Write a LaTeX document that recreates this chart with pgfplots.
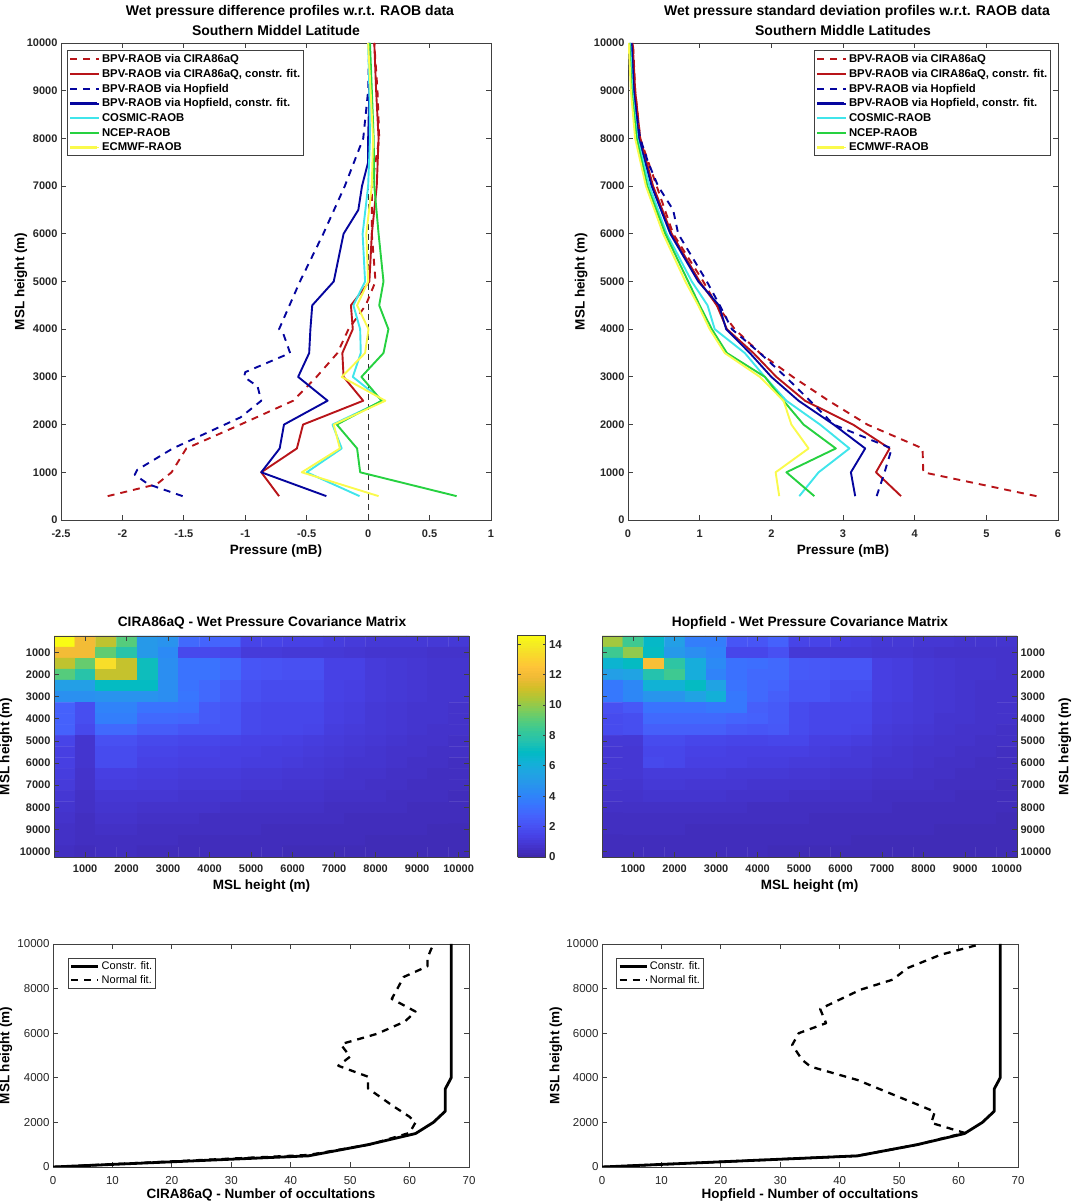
\documentclass[border=0pt]{standalone}
\usepackage{fontspec}
\setmainfont{Liberation Sans}
\usepackage{pgfplots}
\pgfplotsset{compat=1.18}

% one pixel of the reference = 1pt
\definecolor{axgray}{gray}{0.25}
\definecolor{cred}{rgb}{0.72,0.08,0.10}
\definecolor{cblue}{rgb}{0.02,0.02,0.62}
\definecolor{ccyan}{rgb}{0.25,0.90,0.92}
\definecolor{cgreen}{rgb}{0.15,0.82,0.25}
\definecolor{cyell}{rgb}{0.98,0.98,0.30}

\pgfplotsset{
  colormap={parula}{
    rgb=(.2422,.1504,.6603) rgb=(.2647,.1978,.7952) rgb=(.2783,.2559,.8991)
    rgb=(.2810,.3228,.9579) rgb=(.2699,.3892,.9906) rgb=(.2206,.4603,.9973)
    rgb=(.1786,.5289,.9682) rgb=(.1540,.5902,.9218) rgb=(.1248,.6459,.8883)
    rgb=(.0689,.6948,.8394) rgb=(.0067,.7312,.7660) rgb=(.1408,.7584,.6842)
    rgb=(.2161,.7843,.5923) rgb=(.3406,.8008,.4789) rgb=(.5044,.7993,.3480)
    rgb=(.6720,.7793,.2227) rgb=(.8203,.7498,.1535) rgb=(.9393,.7288,.2100)
    rgb=(.9970,.7659,.2199) rgb=(.9786,.8386,.1766) rgb=(.9597,.9135,.1423)
    rgb=(.9769,.9839,.0805)
  },
  base/.style={
    scale only axis, anchor=south west, clip=true,
    axis line style={axgray,line width=0.9pt},
    tick style={axgray,line width=0.8pt},
    major tick length=5pt, tick align=inside,
    scaled ticks=false,
    /pgf/number format/assume math mode=true,
    /pgf/number format/1000 sep={},
    xlabel style={font=\fontsize{13.5}{15}\selectfont\bfseries},
    ylabel style={font=\fontsize{13.5}{15}\selectfont\bfseries},
  },
  boldticks/.style={tick label style={font=\fontsize{11}{12}\selectfont\bfseries,black!85}},
  plainticks/.style={tick label style={font=\fontsize{11.5}{12}\selectfont,black!85}},
  ylab/.style={ylabel style={at={(axis description cs:#1,0.5)},anchor=center}},
  xlab/.style={xlabel style={at={(axis description cs:0.5,#1)},anchor=center}},
  prof/.style={
    base, boldticks, width=430pt, height=477pt,
    xticklabel style={yshift=-6pt}, xlab=-0.065,
    ymin=0, ymax=10000, ytick={0,1000,...,10000},
    legend cell align=left,
    legend image code/.code={\draw[##1,line width=2.3pt] (0pt,0pt) -- (27pt,0pt); \path (0pt,0pt) -- (29pt,0pt);},
    legend style={draw=axgray,line width=0.9pt,inner sep=1.5pt,row sep=1.2pt,
      font=\fontsize{11.3}{14}\selectfont\bfseries},
    every axis plot/.append style={line width=1.9pt,line join=round},
  },
  heat/.style={
    base, boldticks, width=415pt, height=221pt,
    xticklabel style={yshift=-4pt}, xlab=-0.131,
    xmin=250, xmax=10250, ymin=250, ymax=10250, y dir=reverse,
    xtick={1000,2000,...,10000}, ytick={1000,2000,...,10000},
    colormap name=parula, point meta min=0, point meta max=14.6,
  },
  count/.style={
    base, plainticks, width=416pt, height=223pt,
    xticklabel style={yshift=-6pt}, xlab=-0.125,
    xmin=0, xmax=70, ymin=0, ymax=10000,
    xtick={0,10,...,70}, ytick={0,2000,...,10000},
    legend cell align=left,
    legend image code/.code={\draw[##1] (0pt,0pt) -- (27pt,0pt);},
    legend style={draw=axgray,line width=0.9pt,inner sep=1.5pt,
      font=\fontsize{11}{13.5}\selectfont},
    every axis plot/.append style={black,line join=round},
  },
  dsh/.style={dash pattern=on 7pt off 6pt},
  mtx/.style={matrix plot, faceted color=mapped color, line width=0.4pt, mesh/cols=20, point meta=\thisrow{z}},
}

\begin{document}
\begin{tikzpicture}[x=1pt,y=1pt]
\path[use as bounding box] (0,0) rectangle (1074,1204);

% wet pressure difference
\begin{axis}[prof, at={(61pt,684pt)}, xmin=-2.5, xmax=1,
  xtick={-2.5,-2,...,1}, xticklabels={-2.5,-2,-1.5,-1,-0.5,0,0.5,1},
  xlabel={Pressure (mB)}, ylabel={MSL height (m)}, ylab=-0.093,
  legend style={at={(0.014,0.985)},anchor=north west}]
\addplot[black!80,line width=0.9pt,dash pattern=on 6pt off 4pt,forget plot] coordinates {(0,0)(0,10000)};
\addplot[cred,dsh] coordinates {(-2.12,500)(-1.72,750)(-1.6,1000)(-1.48,1500)(-1.04,2000)(-0.61,2500)(-0.42,3000)(-0.25,3500)(-0.16,4000)(-0.02,4500)(0.06,5000)(0.03,6000)(0.03,7000)(0.09,8000)(0.076,9000)(0.05,10000)};
\addlegendentry{BPV-RAOB via CIRA86aQ}
\addplot[cred] coordinates {(-0.725,500)(-0.87,1000)(-0.58,1500)(-0.53,2000)(-0.04,2500)(-0.2,3000)(-0.21,3500)(-0.125,4000)(-0.14,4500)(0.01,5000)(0.03,6000)(0.07,7000)(0.085,8000)(0.065,9000)(0.05,10000)};
\addlegendentry{BPV-RAOB via CIRA86aQ, constr. fit.}
\addplot[cblue,dsh] coordinates {(-1.51,500)(-1.79,750)(-1.9,950)(-1.88,1050)(-1.59,1500)(-1.04,2150)(-0.87,2500)(-0.9,2800)(-1.01,3000)(-1.0,3100)(-0.635,3500)(-0.69,3900)(-0.725,4000)(-0.555,5000)(-0.365,6000)(-0.19,7000)(-0.04,8000)(0,9000)(0.01,10000)};
\addlegendentry{BPV-RAOB via Hopfield}
\addplot[cblue] coordinates {(-0.34,500)(-0.87,1000)(-0.72,1500)(-0.685,2000)(-0.33,2500)(-0.57,3000)(-0.48,3500)(-0.47,4000)(-0.455,4500)(-0.28,5000)(-0.2,6000)(-0.08,6500)(-0.05,7000)(0,7500)(0,8000)(0.01,9000)(0.01,10000)};
\addlegendentry{BPV-RAOB via Hopfield, constr. fit.}
\addplot[ccyan] coordinates {(-0.07,500)(-0.5,1000)(-0.215,1500)(-0.29,2000)(0.12,2500)(-0.125,3000)(-0.06,3500)(-0.065,4000)(-0.12,4500)(-0.025,5000)(-0.045,6000)(0,7000)(0.015,8000)(0.01,9000)(0,10000)};
\addlegendentry{COSMIC-RAOB}
\addplot[cgreen] coordinates {(0.72,500)(-0.065,1000)(-0.09,1500)(-0.255,2000)(0.11,2500)(-0.055,3000)(0.125,3500)(0.165,4000)(0.09,4500)(0.125,5000)(0.085,6000)(0.05,7000)(0.045,8000)(0.03,9000)(0.015,10000)};
\addlegendentry{NCEP-RAOB}
\addplot[cyell] coordinates {(0.085,500)(-0.54,1000)(-0.23,1500)(-0.28,2000)(0.14,2500)(-0.215,3000)(-0.025,3500)(0.003,4000)(-0.09,4500)(0,5000)(-0.015,6000)(0.03,7000)(0.04,8000)(0.02,9000)(0,10000)};
\addlegendentry{ECMWF-RAOB}
\end{axis}

% wet pressure standard deviation
\begin{axis}[prof, at={(628pt,684pt)}, xmin=0, xmax=6, xtick={0,1,...,6},
  xlabel={Pressure (mB)}, ylabel={MSL height (m)}, ylab=-0.109,
  legend style={at={(0.4326,0.985)},anchor=north west}]
\addplot[cred,dsh] coordinates {(5.7,500)(4.12,1000)(4.11,1500)(3.34,2000)(2.8,2500)(2.3,3000)(1.84,3500)(1.49,4000)(1.24,4500)(1.05,5000)(0.63,6000)(0.4,7000)(0.17,8000)(0.1,9000)(0.07,10000)};
\addlegendentry{BPV-RAOB via CIRA86aQ}
\addplot[cred] coordinates {(3.81,500)(3.46,1000)(3.65,1500)(3.14,2000)(2.47,2500)(2.07,3000)(1.75,3500)(1.38,4000)(1.24,4500)(1.0,5000)(0.61,6000)(0.35,7000)(0.17,8000)(0.1,9000)(0.065,10000)};
\addlegendentry{BPV-RAOB via CIRA86aQ, constr. fit.}
\addplot[cblue,dsh] coordinates {(3.47,500)(3.58,1000)(3.68,1500)(2.87,2000)(2.54,2500)(2.2,3000)(1.84,3500)(1.45,4000)(1.28,4500)(1.1,5000)(0.7,6000)(0.63,6500)(0.42,7000)(0.28,7500)(0.17,8000)(0.07,9000)(0.03,10000)};
\addlegendentry{BPV-RAOB via Hopfield}
\addplot[cblue] coordinates {(3.17,500)(3.11,1000)(3.31,1500)(2.87,2000)(2.38,2500)(2.0,3000)(1.7,3500)(1.37,4000)(1.27,4500)(0.98,5000)(0.59,6000)(0.33,7000)(0.15,8000)(0.08,9000)(0.05,10000)};
\addlegendentry{BPV-RAOB via Hopfield, constr. fit.}
\addplot[ccyan] coordinates {(2.39,500)(2.66,1000)(3.09,1500)(2.68,2000)(2.21,2500)(1.91,3000)(1.63,3500)(1.21,4000)(1.11,4500)(0.89,5000)(0.54,6000)(0.3,7000)(0.13,8000)(0.06,9000)(0.03,10000)};
\addlegendentry{COSMIC-RAOB}
\addplot[cgreen] coordinates {(2.6,500)(2.21,1000)(2.9,1500)(2.45,2000)(2.17,2500)(1.91,3000)(1.38,3500)(1.17,4000)(1.0,4500)(0.84,5000)(0.52,6000)(0.27,7000)(0.12,8000)(0.05,9000)(0.02,10000)};
\addlegendentry{NCEP-RAOB}
\addplot[cyell] coordinates {(2.11,500)(2.06,1000)(2.52,1500)(2.28,2000)(2.17,2500)(1.84,3000)(1.35,3500)(1.14,4000)(0.98,4500)(0.8,5000)(0.49,6000)(0.25,7000)(0.1,8000)(0.04,9000)(0.01,10000)};
\addlegendentry{ECMWF-RAOB}
\end{axis}

% covariance matrices, 20 x 20, 500 m steps
\begin{axis}[heat, at={(54pt,347pt)},
  xlabel={MSL height (m)}, ylabel={MSL height (m)}, ylab=-0.1157,
  colorbar sampled,
  colorbar style={at={(509pt,347pt)}, anchor=south west, width=28pt, height=222pt,
    samples=90, ytick={0,2,...,14}, axis line style={axgray,line width=0.9pt},
    major tick length=3pt,
    yticklabel style={font=\fontsize{11.5}{12}\selectfont\bfseries,black!85},
    /pgf/number format/assume math mode=true}]
\addplot[mtx] table[row sep=crcr, x expr={500*(mod(\coordindex,20)+1)}, y expr={500*(floor((\coordindex+0.5)/20)+1)}] {
z\\
14.6\\12\\10.8\\9\\5\\4.7\\3\\2.8\\2.8\\1.5\\1.5\\1.4\\1.4\\1.2\\1.1\\1\\1\\1\\1\\1\\
12\\12\\9.2\\7.8\\5\\4.3\\1.7\\1.7\\1.6\\1.1\\1.1\\1\\1\\1\\.9\\.8\\.8\\.8\\.7\\.7\\
10.8\\9.3\\13.5\\10.9\\7.2\\4.5\\3.4\\3.4\\3\\2.2\\2.1\\2\\2\\1.4\\1.4\\1.1\\1\\.9\\.8\\.8\\
9\\7.8\\10.9\\10.9\\7.2\\4.5\\3.4\\3.4\\3\\2.2\\2.1\\2\\2\\1.4\\1.4\\1.1\\1\\.9\\.8\\.8\\
5.3\\5.3\\7\\7\\7\\4.5\\3.4\\3\\2.5\\2\\1.8\\1.8\\1.8\\1.4\\1.3\\1.1\\1\\.9\\.8\\.8\\
4.6\\4.6\\4.7\\4.7\\4.7\\4.5\\3.5\\3\\2.5\\2\\1.8\\1.8\\1.8\\1.4\\1.3\\1.1\\1\\.9\\.8\\.8\\
2.7\\1.9\\4\\4\\3.4\\3.4\\3.3\\2.4\\2.2\\1.7\\1.6\\1.6\\1.6\\1.3\\1.2\\1\\.9\\.8\\.8\\.7\\
2.7\\1.9\\3.8\\3.8\\3\\3\\2.9\\2.4\\2.2\\1.7\\1.6\\1.6\\1.6\\1.3\\1.2\\1\\.9\\.8\\.8\\.7\\
2.7\\1.7\\3\\3\\2.5\\2.5\\2.2\\2.2\\2.2\\1.7\\1.6\\1.6\\1.5\\1.2\\1.1\\1\\.9\\.8\\.7\\.7\\
1.5\\.8\\2\\2\\1.7\\1.7\\1.6\\1.6\\1.5\\1.4\\1.4\\1.3\\1.2\\1.1\\1\\.9\\.8\\.7\\.7\\.6\\
1.3\\.8\\1.8\\1.8\\1.5\\1.5\\1.4\\1.4\\1.3\\1.3\\1.2\\1.2\\1.1\\1\\.9\\.8\\.7\\.7\\.6\\.6\\
1.3\\.8\\1.8\\1.8\\1.4\\1.4\\1.3\\1.3\\1.3\\1.2\\1.2\\1.1\\1\\.9\\.8\\.8\\.7\\.6\\.6\\.5\\
1.2\\.7\\1.3\\1.3\\1.2\\1.2\\1.1\\1.1\\1.1\\1\\1\\.9\\.9\\.8\\.7\\.7\\.6\\.6\\.5\\.5\\
1.1\\.7\\1.2\\1.2\\1.1\\1.1\\1\\1\\1\\.9\\.9\\.8\\.8\\.7\\.7\\.6\\.6\\.5\\.5\\.5\\
.9\\.6\\.9\\.9\\.9\\.9\\.8\\.8\\.8\\.7\\.7\\.7\\.7\\.6\\.6\\.6\\.5\\.5\\.5\\.4\\
.8\\.6\\.8\\.8\\.7\\.7\\.7\\.7\\.6\\.6\\.6\\.6\\.6\\.5\\.5\\.5\\.5\\.4\\.4\\.4\\
.7\\.5\\.7\\.7\\.6\\.6\\.6\\.5\\.5\\.5\\.5\\.5\\.5\\.5\\.4\\.4\\.4\\.4\\.4\\.4\\
.6\\.5\\.6\\.6\\.5\\.5\\.5\\.5\\.5\\.5\\.4\\.4\\.4\\.4\\.4\\.4\\.4\\.4\\.3\\.3\\
.6\\.5\\.5\\.5\\.5\\.5\\.4\\.4\\.4\\.4\\.4\\.4\\.4\\.4\\.4\\.3\\.3\\.3\\.3\\.3\\
.5\\.4\\.5\\.5\\.4\\.4\\.4\\.4\\.4\\.4\\.4\\.3\\.3\\.3\\.3\\.3\\.3\\.3\\.3\\.3\\
};
\end{axis}

\begin{axis}[heat, at={(602pt,347pt)}, yticklabel pos=right,
  xlabel={MSL height (m)}, ylabel={MSL height (m)}, ylab=1.1157]
\addplot[mtx] table[row sep=crcr, x expr={500*(mod(\coordindex,20)+1)}, y expr={500*(floor((\coordindex+0.5)/20)+1)}] {
z\\
10.3\\8.5\\6.8\\5.3\\3.8\\3.8\\2.2\\2.2\\2.7\\1.5\\1.5\\1.3\\1.2\\1\\1\\.9\\.9\\.8\\.8\\.8\\
8.5\\10\\7\\5\\4.5\\4\\1.6\\1.6\\2\\1\\1\\1\\1\\.9\\.9\\.8\\.7\\.7\\.7\\.7\\
6.5\\7\\12.2\\8\\6\\4.3\\3.3\\3.2\\3\\2.4\\2.3\\2.2\\2.2\\1.3\\1.2\\1\\.9\\.8\\.8\\.7\\
5.3\\5.5\\7.7\\8.5\\6\\4\\3.3\\3\\3\\2.4\\2.3\\2.2\\2.2\\1.3\\1.2\\1\\.9\\.8\\.8\\.7\\
3.6\\4.2\\6.3\\6.3\\7\\5.5\\3.4\\3\\2.8\\2.2\\2.2\\1.9\\1.9\\1.3\\1.2\\1\\.9\\.8\\.7\\.7\\
3.6\\4.2\\4.8\\4.8\\5.5\\6.2\\3.6\\3\\2.6\\2.2\\2.2\\1.9\\1.8\\1.3\\1.2\\1\\.9\\.8\\.7\\.7\\
2\\2.3\\3.4\\3.4\\3.4\\3.6\\3.6\\2.6\\2.4\\1.8\\1.6\\1.6\\1.6\\1.2\\1.1\\1\\.9\\.8\\.7\\.7\\
1.8\\1.9\\3\\3\\3\\3\\2.8\\2.7\\2.4\\1.8\\1.6\\1.6\\1.6\\1.2\\1.1\\1\\.8\\.8\\.7\\.7\\
1.8\\1.9\\2.6\\2.6\\2.6\\2.6\\2.3\\2.2\\2.3\\1.8\\1.6\\1.6\\1.5\\1.1\\1\\.9\\.8\\.7\\.7\\.6\\
1\\1\\1.8\\1.8\\1.6\\1.6\\1.5\\1.5\\1.6\\1.6\\1.3\\1.3\\1.2\\1\\.9\\.8\\.7\\.7\\.6\\.6\\
.9\\.9\\1.6\\1.6\\1.4\\1.4\\1.3\\1.3\\1.3\\1.3\\1.2\\1.1\\1\\.9\\.8\\.7\\.7\\.6\\.6\\.5\\
.9\\.9\\1.7\\1.6\\1.3\\1.3\\1.3\\1.2\\1.2\\1.1\\1.1\\1\\1\\.8\\.8\\.7\\.6\\.6\\.5\\.5\\
.9\\.9\\1.1\\1.1\\1.1\\1.1\\1\\1\\1\\.9\\.9\\.8\\.8\\.7\\.7\\.6\\.6\\.5\\.5\\.5\\
.8\\.8\\1\\1\\.9\\.9\\.9\\.8\\.8\\.8\\.8\\.7\\.7\\.6\\.6\\.6\\.5\\.5\\.5\\.4\\
.7\\.7\\.8\\.8\\.8\\.8\\.7\\.7\\.7\\.6\\.6\\.6\\.6\\.5\\.5\\.5\\.5\\.4\\.4\\.4\\
.6\\.6\\.6\\.6\\.6\\.6\\.6\\.5\\.5\\.5\\.5\\.5\\.5\\.5\\.4\\.4\\.4\\.4\\.4\\.4\\
.5\\.5\\.5\\.5\\.5\\.5\\.5\\.5\\.5\\.5\\.4\\.4\\.4\\.4\\.4\\.4\\.4\\.4\\.4\\.3\\
.5\\.5\\.5\\.5\\.4\\.4\\.4\\.4\\.4\\.4\\.4\\.4\\.4\\.4\\.4\\.4\\.3\\.3\\.3\\.3\\
.4\\.4\\.4\\.4\\.4\\.4\\.4\\.4\\.4\\.4\\.4\\.4\\.3\\.3\\.3\\.3\\.3\\.3\\.3\\.3\\
.4\\.4\\.4\\.4\\.4\\.4\\.4\\.4\\.3\\.3\\.3\\.3\\.3\\.3\\.3\\.3\\.3\\.3\\.3\\.3\\
};
\end{axis}

% number of occultations
\begin{axis}[count, at={(53pt,37pt)},
  xlabel={CIRA86aQ - Number of occultations}, ylabel={MSL height (m)}, ylab=-0.113,
  legend style={at={(0.036,0.937)},anchor=north west}]
\addplot[line width=2.8pt] coordinates {(0,0)(43,500)(53,1000)(61,1500)(64,2000)(66,2500)(66,3000)(66,3500)(67,4000)(67,10000)};
\addlegendentry{Constr. fit.}
\addplot[line width=2.3pt,dsh] coordinates {(0,0)(43,540)(53.5,1020)(60,1530)(61,2000)(60,2250)(57,2775)(53,3525)(53,4050)(48,4540)(50,4950)(48.5,5470)(49,5550)(54.5,5970)(59.2,6520)(61,6970)(57,7540)(58,8020)(59,8520)(63,9000)(63,9370)(64,10000)};
\addlegendentry{Normal fit.}
\end{axis}

\begin{axis}[count, at={(602pt,37pt)},
  xlabel={Hopfield - Number of occultations}, ylabel={MSL height (m)}, ylab=-0.1106,
  legend style={at={(0.034,0.937)},anchor=north west}]
\addplot[line width=2.8pt] coordinates {(0,0)(43,500)(53,1000)(61,1500)(64,2000)(66,2500)(66,3000)(66,3500)(67,4000)(67,10000)};
\addlegendentry{Constr. fit.}
\addplot[line width=2.3pt,dsh] coordinates {(0,0)(43,500)(53,1000)(61,1530)(55.4,1980)(56,2475)(54,2700)(43,3900)(35.1,4500)(33.7,4800)(32,5470)(33.1,6000)(37.7,6450)(36.7,7090)(43.5,7950)(48.9,8400)(51.4,8920)(57,9520)(63.8,10000)};
\addlegendentry{Normal fit.}
\end{axis}

% titles, placed where they stand in the reference
\begin{scope}[every node/.style={font=\fontsize{14}{16}\selectfont\bfseries}]
\node at (290,1192.5) {Wet pressure difference profiles w.r.t. RAOB data};
\node at (276,1173) {Southern Middel Latitude};
\node at (857,1192.5) {Wet pressure standard deviation profiles w.r.t. RAOB data};
\node at (843,1173) {Southern Middle Latitudes};
\end{scope}
\begin{scope}[every node/.style={font=\fontsize{13.7}{15}\selectfont\bfseries}]
\node at (262,581) {CIRA86aQ - Wet Pressure Covariance Matrix};
\node at (810,581) {Hopfield - Wet Pressure Covariance Matrix};
\end{scope}
\end{tikzpicture}
\end{document}
